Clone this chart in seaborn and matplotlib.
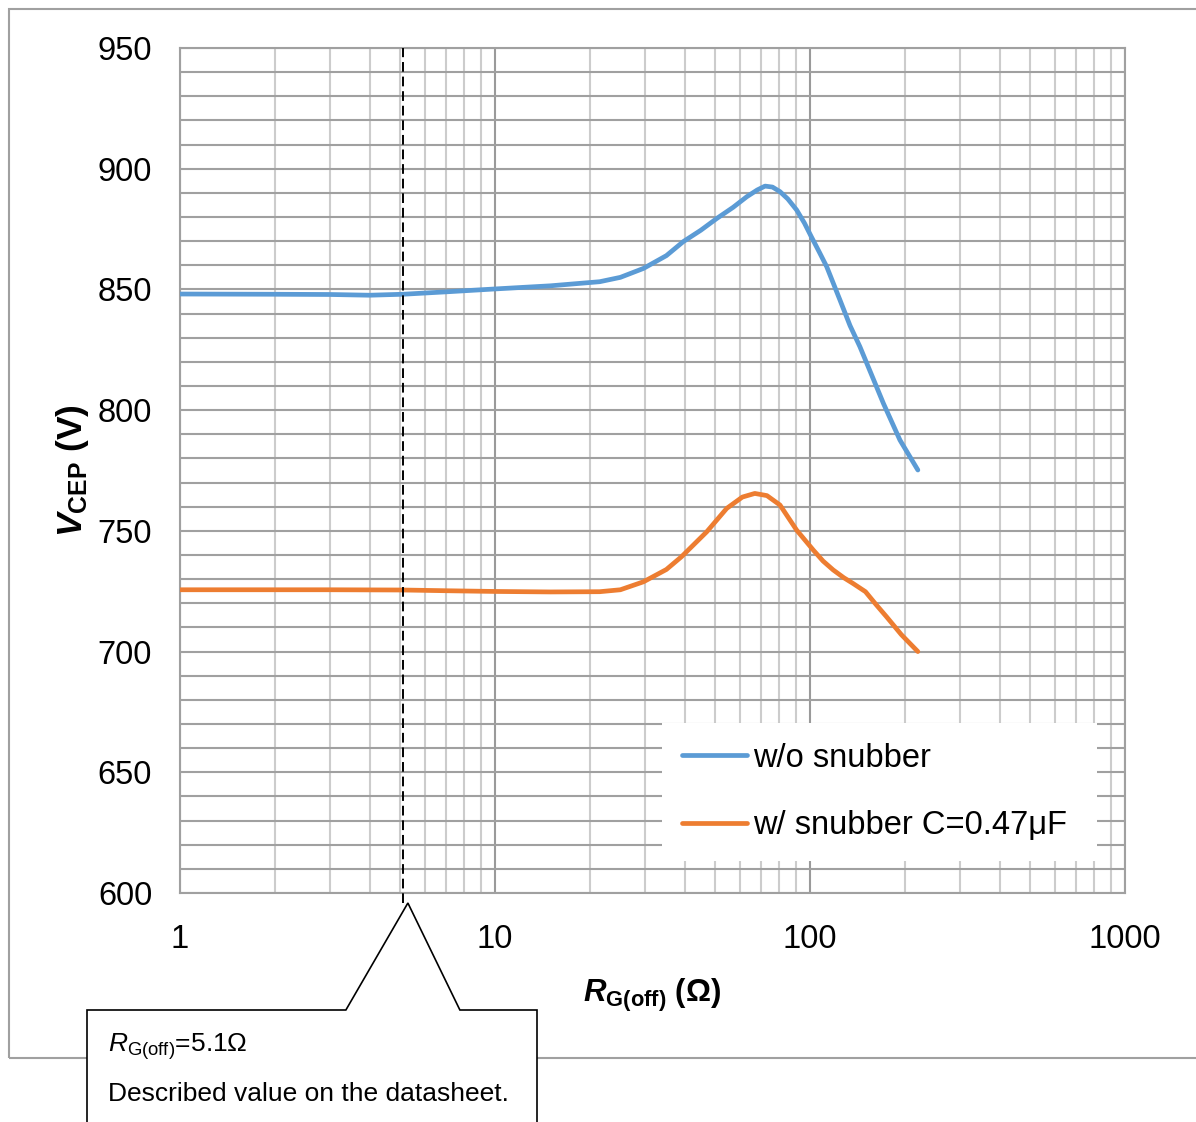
import numpy as np
import pandas as pd
import matplotlib
matplotlib.use('Agg')
import matplotlib.pyplot as plt
from matplotlib.patches import Rectangle, Polygon
from matplotlib.ticker import FixedLocator, NullFormatter
import seaborn as sns

# values
rg_wo = [1, 2, 3, 4, 5.1, 7, 10, 15, 21.5, 25, 29.6, 35, 39.6, 45, 50.6, 57, 63, 68, 72, 76, 80.3, 85, 90.7, 96, 101, 107, 113, 124.5, 134, 144, 157, 171, 193, 220]
v_wo = [848.1, 848.0, 847.9, 847.6, 848.0, 849.0, 850.2, 851.5, 853.2, 855.0, 858.7, 864.0, 869.8, 874.5, 879.4, 884.0, 888.4, 891.2, 892.8, 892.4, 890.5, 887.5, 882.9, 877.5, 871.8, 865.5, 859.4, 845.6, 835.0, 826.3, 814.5, 802.8, 787.6, 775.2]

rg_w = [1, 2, 3, 5.1, 7, 10, 15, 21.5, 25, 29.6, 35, 39.1, 47, 54.4, 61, 66.8, 73, 80.3, 90.7, 102.5, 110, 118.5, 128, 137, 150, 162, 175, 195, 220]
v_w = [725.6, 725.6, 725.6, 725.5, 725.2, 724.9, 724.7, 724.8, 725.6, 728.9, 734.0, 739.3, 749.6, 759.3, 764.0, 765.5, 764.6, 760.7, 750.3, 742.0, 737.5, 733.8, 730.6, 728.2, 724.8, 719.5, 714.4, 707.0, 700.0]

series_names = ['w/o snubber', 'w/ snubber C=0.47\u03bcF']
x_ticks = [1, 10, 100, 1000]
x_tick_labels = ['1', '10', '100', '1000']
y_ticks = [600, 650, 700, 750, 800, 850, 900, 950]
rg_datasheet = 5.1

df = pd.concat([
    pd.DataFrame({'rg': rg_wo, 'vcep': v_wo, 'series': series_names[0]}),
    pd.DataFrame({'rg': rg_w, 'vcep': v_w, 'series': series_names[1]}),
])

sns.set_style('white')
plt.rcParams['font.family'] = ['Liberation Sans', 'DejaVu Sans']
plt.rcParams['text.color'] = 'black'
plt.rcParams['axes.labelcolor'] = 'black'
plt.rcParams['xtick.color'] = 'black'
plt.rcParams['ytick.color'] = 'black'
plt.rcParams['mathtext.fontset'] = 'custom'
plt.rcParams['mathtext.rm'] = 'Liberation Sans'
plt.rcParams['mathtext.it'] = 'Liberation Sans:italic'
plt.rcParams['mathtext.bf'] = 'Liberation Sans:bold'
plt.rcParams['mathtext.bfit'] = 'Liberation Sans:bold:italic'

W, H = 1196, 1122
fig = plt.figure(figsize=(W / 100, H / 100), dpi=100)
ax = fig.add_axes([180 / W, 1 - 893 / H, 945 / W, 845 / H])

sns.lineplot(data=df, x='rg', y='vcep', hue='series', palette=['#5B9BD5', '#ED7D31'],
             linewidth=3.4, sort=False, ax=ax, zorder=3)
for ln in ax.get_lines():
    ln.set_solid_joinstyle('round')
    ln.set_solid_capstyle('round')

ax.set_xscale('log')
ax.set_xlim(1, 1000)
ax.set_ylim(600, 950)
ax.set_xticks(x_ticks)
ax.set_xticklabels(x_tick_labels)
ax.xaxis.set_minor_locator(FixedLocator([m * 10 ** d for d in range(3) for m in range(2, 10)]))
ax.xaxis.set_minor_formatter(NullFormatter())
ax.set_yticks(y_ticks)
ax.yaxis.set_minor_locator(FixedLocator(list(range(600, 951, 10))))
ax.tick_params(which='both', length=0)
ax.tick_params(axis='y', labelsize=23.5, pad=20)
ax.tick_params(axis='x', labelsize=23.5, pad=22)

ax.grid(which='minor', axis='x', color='#cccccc', lw=1.5)
ax.grid(which='major', axis='x', color='#9a9a9a', lw=1.5)
ax.grid(which='both', axis='y', color='#a0a0a0', lw=1.5)
ax.set_axisbelow(True)
for s in ax.spines.values():
    s.set_color('#a0a0a0')
    s.set_linewidth(1.5)

ax.set_xlabel('$\\mathbfit{R}_{\\mathbf{G(off)}}$ (\u03a9)', fontsize=22.5, fontweight='bold', labelpad=16)
ax.set_ylabel('$\\mathbfit{V}_{\\mathbf{CEP}}$ (V)', fontsize=25.5, fontweight='bold', labelpad=5)

ax.axvline(rg_datasheet, ymin=-0.012, ymax=1, color='black', lw=1.4, ls=(0, (5, 2.5)),
           clip_on=False, zorder=4)

handles, labels = ax.get_legend_handles_labels()
leg = ax.legend(handles, labels, loc='upper left', bbox_to_anchor=(0.51, 0.201, 0.46, 0.0),
                mode='expand', fontsize=23.5, frameon=True, fancybox=False, framealpha=1,
                facecolor='white', edgecolor='none', handlelength=2.0, handletextpad=0.2,
                labelspacing=1.12, borderpad=0.6, borderaxespad=0)
for ln in leg.get_lines():
    ln.set_linewidth(3.4)

# outer chart frame
fig.patches.append(Rectangle((9 / W, 1 - 1058 / H), 1.2, 1049 / H, transform=fig.transFigure,
                             fill=False, edgecolor='#a0a0a0', lw=1.5, zorder=0))

# callout box pointing at the datasheet value
apex_x = ax.transData.transform((rg_datasheet, 600))[0]
pts = [(87, 1130), (87, 1010), (apex_x - 57, 1010), (apex_x + 5, 903), (apex_x + 57, 1010),
       (537, 1010), (537, 1130)]
fig.patches.append(Polygon([(px / W, 1 - py / H) for px, py in pts], closed=False,
                           transform=fig.transFigure, facecolor='white', edgecolor='black',
                           lw=1.2, zorder=5))
fig.text(108 / W, 1 - 1047 / H, '$\\mathit{R}_{\\mathrm{G(off)}}$=5.1\u03a9', fontsize=19,
         va='center', ha='left', zorder=6)
fig.text(108 / W, 1 - 1094 / H, 'Described value on the datasheet.', fontsize=19,
         va='center', ha='left', zorder=6)

fig.savefig('out.png', dpi=100)
